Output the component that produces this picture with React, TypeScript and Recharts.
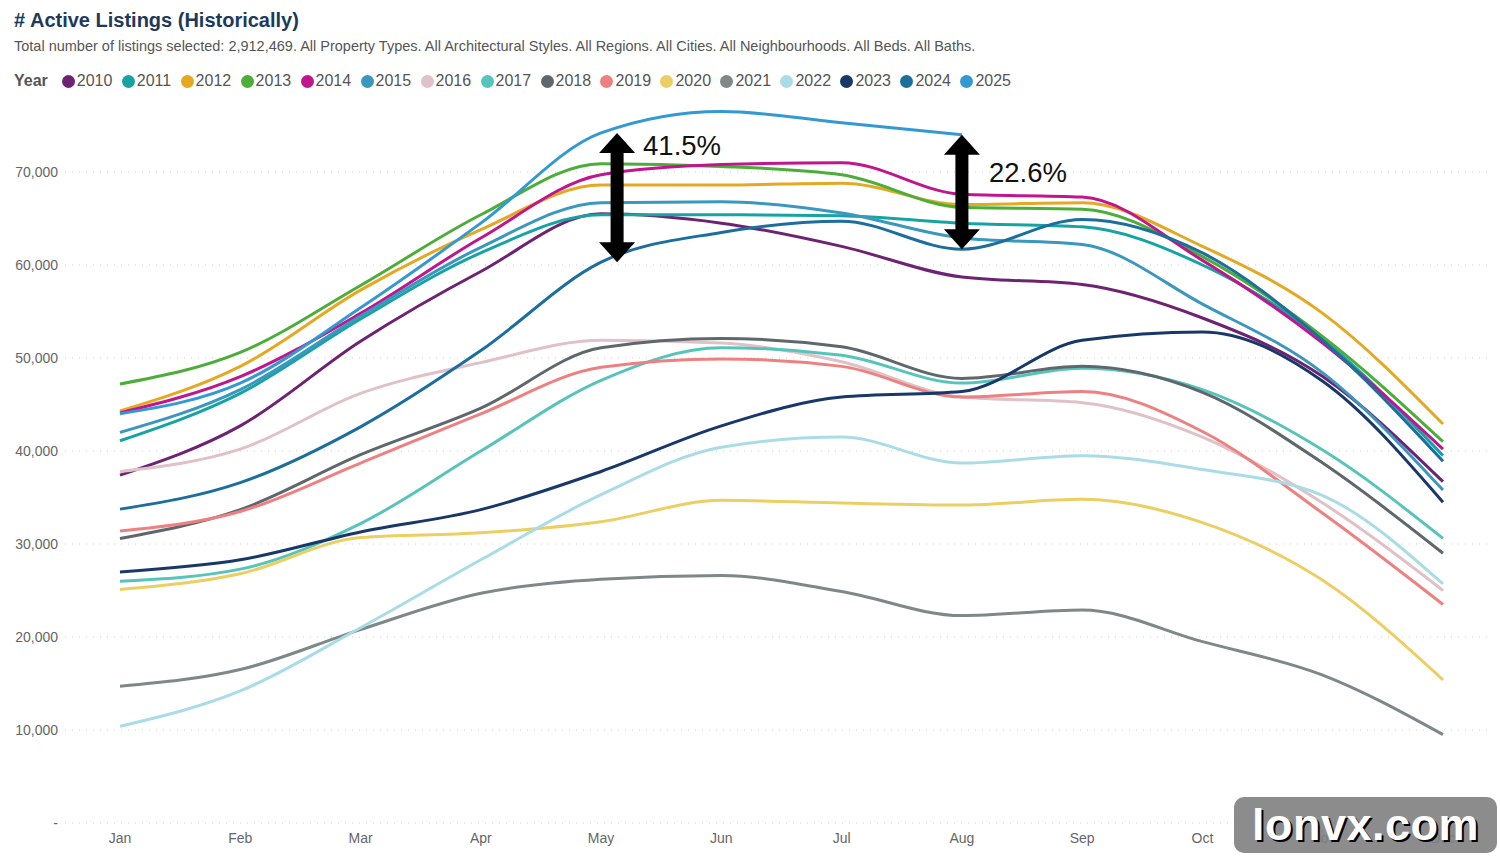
import React from 'react';
import { LineChart, Line, XAxis, YAxis, CartesianGrid, ReferenceLine } from 'recharts';

// Month categories and series (active listings per month, by year)
const months = ['Jan', 'Feb', 'Mar', 'Apr', 'May', 'Jun', 'Jul', 'Aug', 'Sep', 'Oct', 'Nov', 'Dec'];
const years = ['2010', '2011', '2012', '2013', '2014', '2015', '2016', '2017', '2018', '2019', '2020', '2021', '2022', '2023', '2024', '2025'];
const yearColors = [
  '#6E2372', '#17A3A3', '#E5A823', '#4CAD38', '#C0168D', '#3A97BD', '#DFC1C7', '#57C4BB',
  '#5E686C', '#EF8080', '#EBCF62', '#7E8888', '#A9DCE7', '#18386A', '#1B6E9E', '#3399D2',
];

const listings2010 = [37400, 42700, 51800, 59300, 65500, 64500, 62000, 58700, 57900, 54300, 48000, 36700];
const listings2011 = [41100, 46200, 54200, 61300, 65400, 65400, 65300, 64500, 64100, 60000, 52000, 39500];
const listings2012 = [44300, 49100, 57300, 63800, 68600, 68600, 68800, 66500, 66700, 62000, 54800, 42900];
const listings2013 = [47200, 50600, 57800, 65400, 70900, 70600, 69700, 66200, 66000, 60900, 52300, 41000];
const listings2014 = [44100, 48000, 54800, 62900, 69700, 70800, 71000, 67600, 67300, 60500, 51600, 40200];
const listings2015 = [42000, 46600, 54500, 61900, 66700, 66800, 65600, 62900, 62200, 55800, 48400, 35800];
const listings2016 = [37800, 40200, 46200, 49500, 51900, 51600, 49600, 45800, 45200, 41500, 34400, 25000];
const listings2017 = [26000, 27300, 32200, 40000, 47600, 51100, 50300, 47300, 48900, 46600, 40100, 30600];
const listings2018 = [30600, 33700, 39600, 44600, 51100, 52100, 51200, 47800, 49100, 46300, 38700, 29000];
const listings2019 = [31400, 33500, 38700, 44000, 49000, 49900, 49100, 45800, 46400, 42100, 33300, 23500];
const listings2020 = [25100, 26800, 30700, 31200, 32400, 34700, 34400, 34200, 34800, 32300, 26100, 15400];
const listings2021 = [14700, 16500, 20800, 24700, 26200, 26600, 24900, 22300, 22900, 19500, 15900, 9500];
const listings2022 = [10400, 14200, 21000, 28300, 35300, 40400, 41500, 38700, 39500, 38000, 35200, 25700];
const listings2023 = [27000, 28300, 31300, 33700, 37800, 42700, 45800, 46400, 51900, 52800, 47500, 34500];
const listings2024 = [33750, 36600, 42600, 50800, 60300, 63500, 64700, 61700, 64900, 61300, 51900, 38900];
const listings2025 = [44000, 47300, 55400, 64500, 74200, 76500, 75300, 74000];

const seriesValues = [
  listings2010, listings2011, listings2012, listings2013, listings2014, listings2015, listings2016, listings2017,
  listings2018, listings2019, listings2020, listings2021, listings2022, listings2023, listings2024, listings2025,
];

const yTicks = [0, 10000, 20000, 30000, 40000, 50000, 60000, 70000];

// Gap annotations between 2025 and 2024
const gapLabels = ['41.5%', '22.6%'];
const gapMonths = ['May', 'Aug'];

const TITLE = '# Active Listings (Historically)';
const SUBTITLE =
  'Total number of listings selected: 2,912,469. All Property Types. All Architectural Styles. All Regions. All Cities. All Neighbourhoods. All Beds. All Baths.';

const data = months.map((m, i) => {
  const row: Record<string, string | number | undefined> = { month: m };
  years.forEach((y, k) => {
    row[y] = seriesValues[k][i];
  });
  return row;
});

const FONT = '"Liberation Sans", Arial, Helvetica, sans-serif';

const fmtTick = (v: number) => (v === 0 ? '-' : v.toLocaleString('en-US'));

type ArrowProps = {
  x1?: number; y1?: number; x2?: number; y2?: number;
  shiftX: number; label: string; labelDx: number; labelDy: number;
};

const DoubleArrow = ({ x1 = 0, y1 = 0, y2 = 0, shiftX, label, labelDx, labelDy }: ArrowProps) => {
  const x = x1 + shiftX;
  const top = Math.min(y1, y2);
  const bottom = Math.max(y1, y2);
  const head = 20;
  const hw = 18;
  const sw = 6.5;
  const d = [
    `M${x},${top}`, `L${x + hw},${top + head}`, `L${x + sw},${top + head}`, `L${x + sw},${bottom - head}`,
    `L${x + hw},${bottom - head}`, `L${x},${bottom}`, `L${x - hw},${bottom - head}`, `L${x - sw},${bottom - head}`,
    `L${x - sw},${top + head}`, `L${x - hw},${top + head}`, 'Z',
  ].join(' ');
  return (
    <g>
      <path d={d} fill="#000" />
      <text x={x + labelDx} y={top + labelDy} dominantBaseline="central" fontSize={27.5}
        fontFamily={FONT} fill="#111">
        {label}
      </text>
    </g>
  );
};

export default function App() {
  return (
    <div style={{ position: 'absolute', left: 0, top: 0, width: 1500, height: 862, background: '#fff', fontFamily: FONT, overflow: 'hidden' }}>
      <div style={{ position: 'absolute', left: 14, top: 9, fontSize: 20, fontWeight: 700, color: '#1D3A5C', whiteSpace: 'nowrap' }}>
        {TITLE}
      </div>
      <div style={{ position: 'absolute', left: 14, top: 38, fontSize: 14.5, color: '#555', whiteSpace: 'nowrap' }}>
        {SUBTITLE}
      </div>
      <div style={{ position: 'absolute', left: 14, top: 71, height: 20, display: 'flex', alignItems: 'center', fontSize: 16, color: '#555', whiteSpace: 'nowrap' }}>
        <span style={{ fontWeight: 700, marginRight: 14 }}>Year</span>
        {years.map((y, k) => (
          <span key={y} style={{ display: 'inline-flex', alignItems: 'center', marginRight: 9.4 }}>
            <span style={{ width: 13, height: 13, borderRadius: '50%', background: yearColors[k], display: 'inline-block', marginRight: 2 }} />
            <span>{y}</span>
          </span>
        ))}
      </div>

      <div style={{ position: 'absolute', left: 0, top: 0 }}>
        <LineChart width={1500} height={862} data={data} margin={{ top: 79, right: 10, bottom: 9, left: 0 }}>
          <CartesianGrid horizontal vertical={false} horizontalValues={yTicks} stroke="#cfcfcf" strokeDasharray="1 6" />
          <XAxis dataKey="month" axisLine={false} tickLine={false} tickSize={0} tickMargin={10}
            padding={{ left: 55, right: 47 }} height={30} interval={0}
            tick={{ fill: '#666', fontSize: 14, fontFamily: FONT }} />
          <YAxis domain={[0, 80000]} ticks={yTicks} tickFormatter={fmtTick} axisLine={false} tickLine={false}
            tickSize={0} tickMargin={7} width={65} interval={0}
            tick={{ fill: '#666', fontSize: 14, fontFamily: FONT }} />
          {years.map((y, k) => (
            <Line key={y} dataKey={y} type="monotone" stroke={yearColors[k]} strokeWidth={3}
              dot={false} activeDot={false} isAnimationActive={false} connectNulls={false} />
          ))}
          <ReferenceLine
            segment={[{ x: gapMonths[0], y: listings2025[4] }, { x: gapMonths[0], y: listings2024[4] }]}
            shape={(p: any) => <DoubleArrow {...p} shiftX={16} label={gapLabels[0]} labelDx={26} labelDy={13} />}
          />
          <ReferenceLine
            segment={[{ x: gapMonths[1], y: listings2025[7] }, { x: gapMonths[1], y: listings2024[7] }]}
            shape={(p: any) => <DoubleArrow {...p} shiftX={0} label={gapLabels[1]} labelDx={27} labelDy={38} />}
          />
        </LineChart>
      </div>

      <div style={{ position: 'absolute', left: 1234, top: 797, width: 263, height: 56, borderRadius: 10, background: 'rgba(128,128,128,0.9)', display: 'flex', alignItems: 'center', justifyContent: 'center' }}>
        <span style={{ color: '#fff', fontWeight: 700, fontSize: 45, fontFamily: FONT, textShadow: '2px 2px 0 #000', letterSpacing: 0.5 }}>
          lonvx.com
        </span>
      </div>
    </div>
  );
}
